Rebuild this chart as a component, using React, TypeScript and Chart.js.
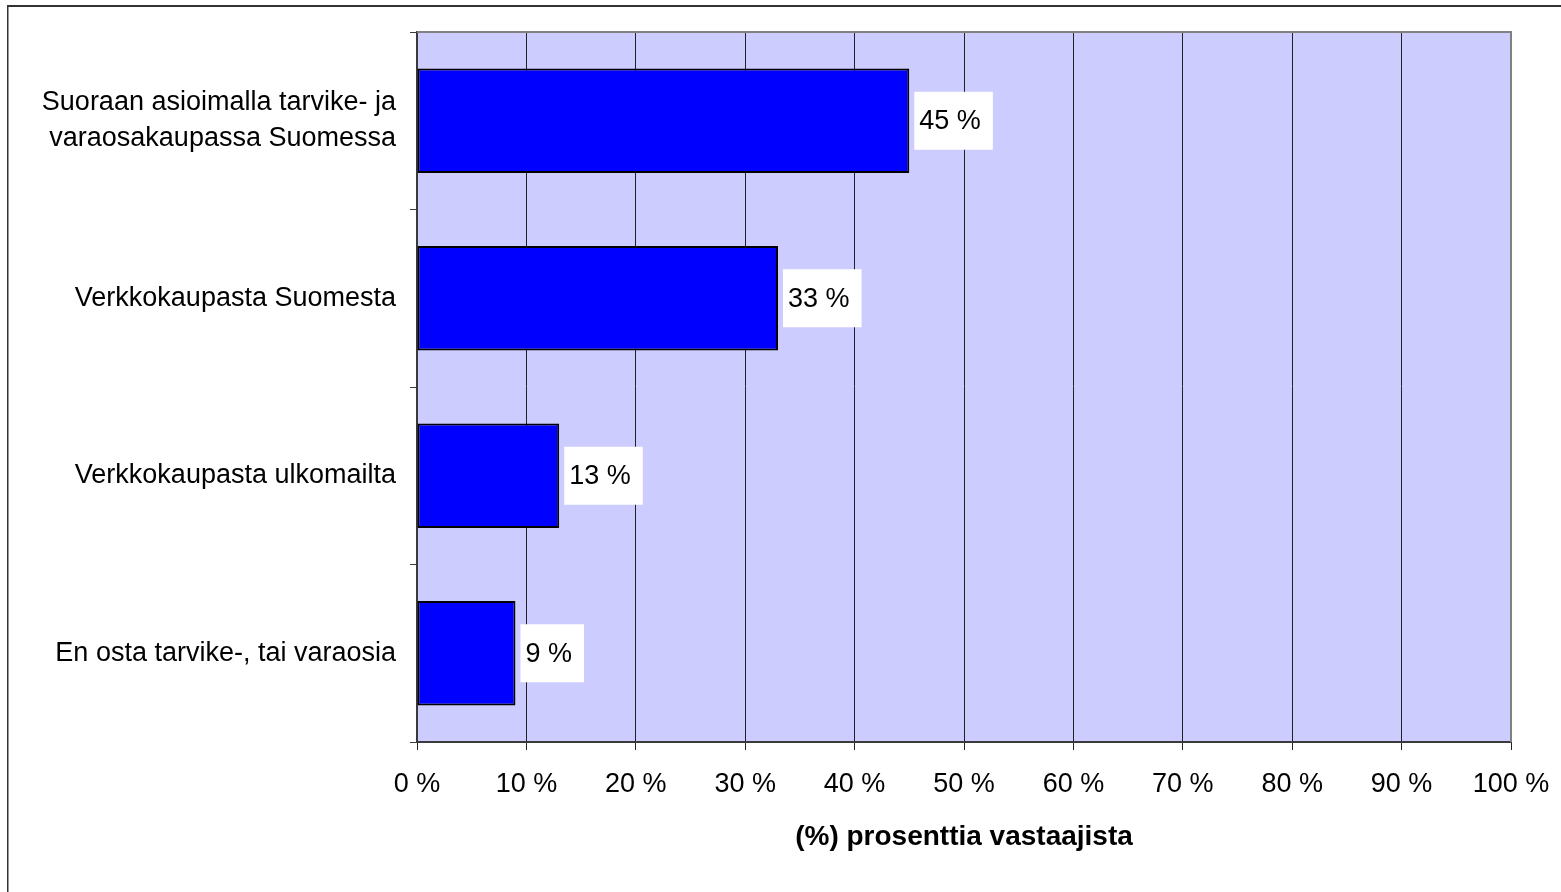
import React, { useEffect, useRef } from "react";
import { Chart, registerables } from "chart.js";

Chart.register(...registerables);

const categories: (string | string[])[] = [
  ["Suoraan asioimalla tarvike- ja", "varaosakaupassa Suomessa"],
  "Verkkokaupasta Suomesta",
  "Verkkokaupasta ulkomailta",
  "En osta tarvike-, tai varaosia",
];
const values: number[] = [45, 33, 13, 9];
const valueLabels: string[] = ["45 %", "33 %", "13 %", "9 %"];
const axisMin = 0;
const axisMax = 100;
const axisStep = 10;
const axisTitle = "(%) prosenttia vastaajista";

const FONT = "'Liberation Sans', Arial, Helvetica, sans-serif";

const framePlugin = {
  id: "framePlugin",
  beforeDraw(chart: any) {
    const { ctx, chartArea } = chart;
    ctx.save();
    ctx.fillStyle = "#ffffff";
    ctx.fillRect(0, 0, chart.width, chart.height);
    ctx.fillStyle = "#CCCCFF";
    ctx.fillRect(chartArea.left, chartArea.top, chartArea.right - chartArea.left, chartArea.bottom - chartArea.top);
    ctx.fillStyle = "#333333";
    ctx.fillRect(7, 5, chart.width - 7, 2);
    ctx.fillRect(7, 5, 1.5, chart.height - 5);
    ctx.restore();
  },
  afterDraw(chart: any) {
    const { ctx, chartArea } = chart;
    ctx.save();
    ctx.strokeStyle = "#808080";
    ctx.lineWidth = 2;
    ctx.beginPath();
    ctx.moveTo(chartArea.left, chartArea.top);
    ctx.lineTo(chartArea.right, chartArea.top);
    ctx.lineTo(chartArea.right, chartArea.bottom);
    ctx.stroke();
    ctx.restore();
  },
};

const labelPlugin = {
  id: "labelPlugin",
  afterDatasetsDraw(chart: any) {
    const { ctx } = chart;
    const meta = chart.getDatasetMeta(0);
    ctx.save();
    ctx.font = `27px ${FONT}`;
    ctx.textBaseline = "middle";
    ctx.textAlign = "left";
    meta.data.forEach((bar: any, i: number) => {
      const text = valueLabels[i];
      const tw = ctx.measureText(text).width;
      const bx = bar.x + 5;
      const bw = tw + 17;
      const bh = 58;
      const by = bar.y - bh / 2;
      ctx.fillStyle = "#ffffff";
      ctx.fillRect(bx, by, bw, bh);
      ctx.fillStyle = "#000000";
      ctx.fillText(text, bx + 5, bar.y + 1);
    });
    ctx.restore();
  },
};

export default function App() {
  const ref = useRef<HTMLCanvasElement | null>(null);

  useEffect(() => {
    if (!ref.current) return;
    const chart = new Chart(ref.current, {
      type: "bar",
      data: {
        labels: categories,
        datasets: [
          {
            data: values,
            backgroundColor: "#0000FF",
            borderColor: "#000000",
            borderWidth: 2,
            borderSkipped: false,
            barPercentage: 0.59,
            categoryPercentage: 1,
          },
        ],
      },
      options: {
        indexAxis: "y",
        responsive: false,
        animation: false,
        devicePixelRatio: 1,
        layout: { padding: { top: 32, right: 50, left: 0, bottom: 0 } },
        plugins: {
          legend: { display: false },
          tooltip: { enabled: false },
        },
        scales: {
          x: {
            min: axisMin,
            max: axisMax,
            afterFit: (s: any) => {
              s.height = 150;
              s.paddingLeft = 0;
              s.paddingRight = 0;
            },
            ticks: {
              stepSize: axisStep,
              padding: 18,
              color: "#000000",
              font: { family: FONT, size: 27 },
              callback: (v: any) => `${v} %`,
            },
            grid: {
              color: "#222222",
              lineWidth: 1,
              tickLength: 8,
              drawOnChartArea: true,
            },
            border: { color: "#3a3a3a", width: 2 },
            title: {
              display: true,
              text: axisTitle,
              color: "#000000",
              font: { family: FONT, size: 28, weight: "bold" },
              padding: { top: 0, bottom: 38 },
            },
          },
          y: {
            afterFit: (s: any) => {
              s.width = 417;
              s.paddingTop = 0;
              s.paddingBottom = 0;
            },
            ticks: {
              padding: 14,
              color: "#000000",
              font: { family: FONT, size: 27, lineHeight: 1.35 },
            },
            grid: {
              offset: true,
              drawOnChartArea: false,
              color: "#3a3a3a",
              tickLength: 7,
            },
            border: { color: "#3a3a3a", width: 2 },
          },
        },
      },
      plugins: [framePlugin, labelPlugin],
    });
    return () => chart.destroy();
  }, []);

  return (
    <div style={{ position: "absolute", left: 0, top: 0, width: 1561, height: 892 }}>
      <canvas ref={ref} width={1561} height={892} style={{ display: "block" }} />
    </div>
  );
}
